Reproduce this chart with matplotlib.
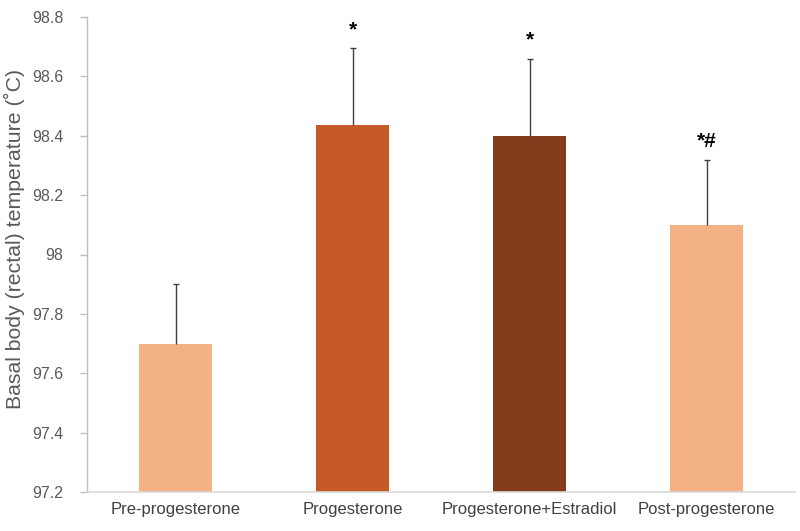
import matplotlib
matplotlib.use("Agg")
import matplotlib.pyplot as plt

categories = ["Pre-progesterone", "Progesterone", "Progesterone+Estradiol", "Post-progesterone"]
means = [97.70, 98.435, 98.40, 98.10]
errors = [0.20, 0.26, 0.26, 0.22]
marks = ["", "*", "*", "*#"]
colors = ["#F4B183", "#C55A28", "#843C1A", "#F4B183"]
yticks = [97.2, 97.4, 97.6, 97.8, 98.0, 98.2, 98.4, 98.6, 98.8]
yticklabels = ["97.2", "97.4", "97.6", "97.8", "98", "98.2", "98.4", "98.6", "98.8"]

plt.rcParams['font.family'] = ['Liberation Sans', 'DejaVu Sans']

fig = plt.figure(figsize=(8, 5.31), dpi=100)
ax = fig.add_axes([87/800, 1 - 492/531, (795-87)/800, (492-17)/531])

x = list(range(len(categories)))
ax.bar(x, [m - 97.2 for m in means], bottom=97.2, width=0.41, color=colors, zorder=2)
eb = ax.errorbar(x, means, yerr=[[0]*len(errors), errors], fmt='none', ecolor='#404040',
                 elinewidth=1.0, capsize=2.5, capthick=1.0, zorder=3)
caps = eb[1]
if len(caps) >= 2:
    caps[0].set_visible(False)
for xi, m, e, t in zip(x, means, errors, marks):
    if t:
        ax.text(xi, m + e + 0.03, t, ha='center', va='bottom', fontsize=15,
                fontweight='bold', color='black')

ax.set_xlim(-0.5, 3.5)
ax.set_ylim(97.2, 98.8)
ax.set_yticks(yticks)
ax.set_yticklabels(yticklabels)
ax.set_xticks(x)
ax.set_xticklabels(categories)
ax.tick_params(axis='y', colors='#BFBFBF', labelcolor='#595959', labelsize=11.5, length=5,
               width=1, pad=12)
ax.tick_params(axis='x', length=0, labelcolor='#404040', labelsize=12, pad=7)
for s in ['top', 'right']:
    ax.spines[s].set_visible(False)
ax.spines['left'].set_color('#BFBFBF')
ax.spines['bottom'].set_color('#D9D9D9')
ax.spines['left'].set_linewidth(1.0)
ax.spines['bottom'].set_linewidth(1.2)
ax.set_ylabel("Basal body (rectal) temperature (˚C)", fontsize=15.3, color='#595959')
ax.yaxis.set_label_coords((25 - 87) / 708, (492 - 239) / 475)

fig.savefig("out.png", dpi=100)
